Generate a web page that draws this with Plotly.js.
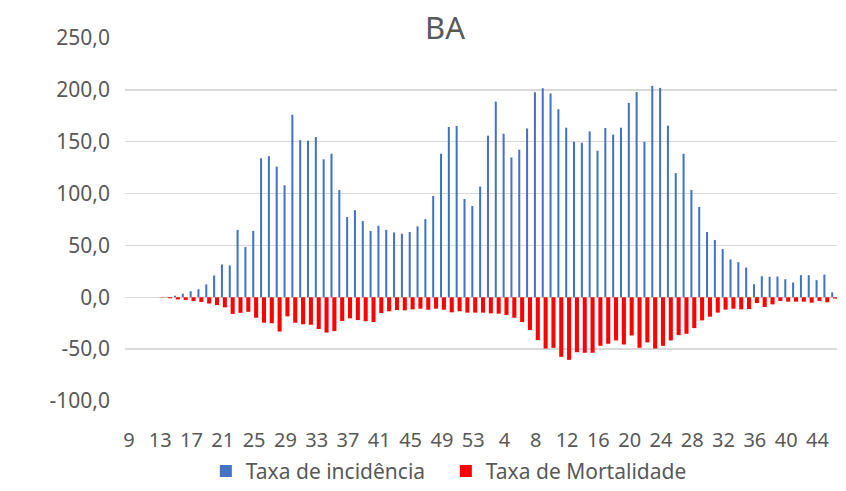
<!DOCTYPE html>
<html>
<head>
<meta charset="utf-8">
<script src="https://cdn.plot.ly/plotly-3.0.1.min.js"></script>
<style>
  html, body { margin: 0; padding: 0; background: #ffffff; }
  #chart { width: 846px; height: 491px; }
</style>
</head>
<body>
<div id="chart"></div>
<script>
// Epidemiological weeks: 2020 weeks 9..53, 2021 weeks 1..46
const weeks = [
  "9","10","11","12","13","14","15","16","17","18","19","20","21","22","23","24","25","26","27","28",
  "29","30","31","32","33","34","35","36","37","38","39","40","41","42","43","44","45","46","47","48",
  "49","50","51","52","53",
  "1","2","3","4","5","6","7","8","9","10","11","12","13","14","15","16","17","18","19","20",
  "21","22","23","24","25","26","27","28","29","30","31","32","33","34","35","36","37","38","39","40",
  "41","42","43","44","45","46"
];

const incidencia = [
  0, 0, 0, 0, 0.1, 0.4, 1.5, 3.5, 5.8, 7.8, 12.5, 21, 31.6, 30.7, 65, 48.4, 64, 134, 136, 126,
  108, 176, 151.5, 151, 154.5, 133, 138.4, 103.5, 77.4, 84, 73.5, 64, 69, 65, 62.5, 61.3, 63, 68.4, 75.3, 97.7,
  138.4, 164.2, 165.2, 94.8, 88,
  106.8, 155.8, 188.7, 157.7, 134.8, 142.3, 162.8, 197.7, 201.6, 196.5, 181.3, 163.5, 150, 149, 160, 141.3, 163.2, 156.8, 163.5, 187.4,
  198, 150, 203.9, 201.9, 165.5, 119.7, 138.4, 103.5, 87.1, 62.9, 55.2, 46.5, 36.5, 33.9, 28.7, 12.6, 20.3, 19.7, 20, 17.4,
  14.2, 21.3, 21.3, 16.5, 21.9, 4.8
];

const mortalidade = [
  0, 0, 0, 0, -0.3, -1, -2, -2.5, -3.5, -4.5, -6, -7.5, -9.7, -16, -15, -14, -19.7, -24.5, -25, -33,
  -18.4, -24.5, -26, -26.5, -30.6, -34, -32.6, -22.8, -20.3, -22, -23.1, -23.8, -15.1, -13.5, -12.3, -12.6, -11.6, -11, -12, -11,
  -12, -14.5, -13.5, -14.8, -14.8,
  -14.8, -15.5, -15.8, -17, -19.7, -23.9, -31.5, -41.3, -49.4, -48.7, -57.4, -60.3, -52.9, -53.5, -53.5, -46.8, -44.8, -41.6, -45.5, -36.8,
  -48.7, -43.5, -49.4, -46.8, -41.6, -36.5, -35.2, -29.7, -22.3, -18.7, -14.8, -11.9, -11, -11.6, -11.3, -5.5, -9.4, -6.8, -3.5, -4.2,
  -4.2, -4.2, -5.2, -3.5, -4.8, -1.3
];

const yTickVals = [-100, -50, 0, 50, 100, 150, 200, 250];
const yTickText = ["-100,0", "-50,0", "0,0", "50,0", "100,0", "150,0", "200,0", "250,0"];

const xIdx = weeks.map((_, i) => i);
const xTickVals = xIdx.filter(i => i % 4 === 0);
const xTickText = xTickVals.map(i => weeks[i]);

const FONT = '"Noto Sans", "Open Sans", sans-serif';
const GREY = '#595959';

const traces = [
  {
    type: 'bar', name: 'Taxa de incidência',
    x: xIdx, y: incidencia,
    width: 0.26, offset: -0.24,
    marker: { color: '#4472C4', line: { width: 0 } },
    hoverinfo: 'y'
  },
  {
    type: 'bar', name: 'Taxa de Mortalidade',
    x: xIdx, y: mortalidade,
    width: 0.52, offset: 0.0,
    marker: { color: '#FF0000', line: { width: 0 } },
    hoverinfo: 'y'
  }
];

const layout = {
  width: 846, height: 491,
  paper_bgcolor: '#ffffff', plot_bgcolor: '#ffffff',
  margin: { l: 125, r: 9, t: 38, b: 90 },
  separators: ',.',
  barmode: 'overlay',
  font: { family: FONT, color: GREY, size: 20 },
  title: {
    text: 'BA',
    font: { family: FONT, size: 31, color: GREY },
    x: 0.526, xref: 'container', xanchor: 'center',
    y: 0.943, yref: 'container', yanchor: 'middle'
  },
  xaxis: {
    range: [-0.5, weeks.length - 0.5],
    tickmode: 'array', tickvals: xTickVals, ticktext: xTickText,
    tickangle: 0,
    showgrid: false, zeroline: false, showline: false,
    ticks: '', ticklabelstandoff: 25,
    tickfont: { family: FONT, size: 20, color: GREY },
    fixedrange: true
  },
  yaxis: {
    range: [-100, 250],
    tickmode: 'array', tickvals: yTickVals, ticktext: yTickText,
    showgrid: true, gridcolor: '#D9D9D9', gridwidth: 1.5,
    zeroline: false, showline: false, ticks: '',
    ticklabelstandoff: 14,
    tickfont: { family: FONT, size: 21, color: GREY },
    fixedrange: true
  },
  showlegend: true,
  legend: {
    orientation: 'h',
    x: 0.527, xref: 'container', xanchor: 'center',
    y: 0.04, yref: 'container', yanchor: 'middle',
    font: { family: FONT, size: 21, color: GREY },
    traceorder: 'normal',
    itemwidth: 30,
    entrywidthmode: 'pixels',
    entrywidth: 195
  }
};

Plotly.newPlot('chart', traces, layout, { staticPlot: true, displayModeBar: false });
</script>
</body>
</html>
